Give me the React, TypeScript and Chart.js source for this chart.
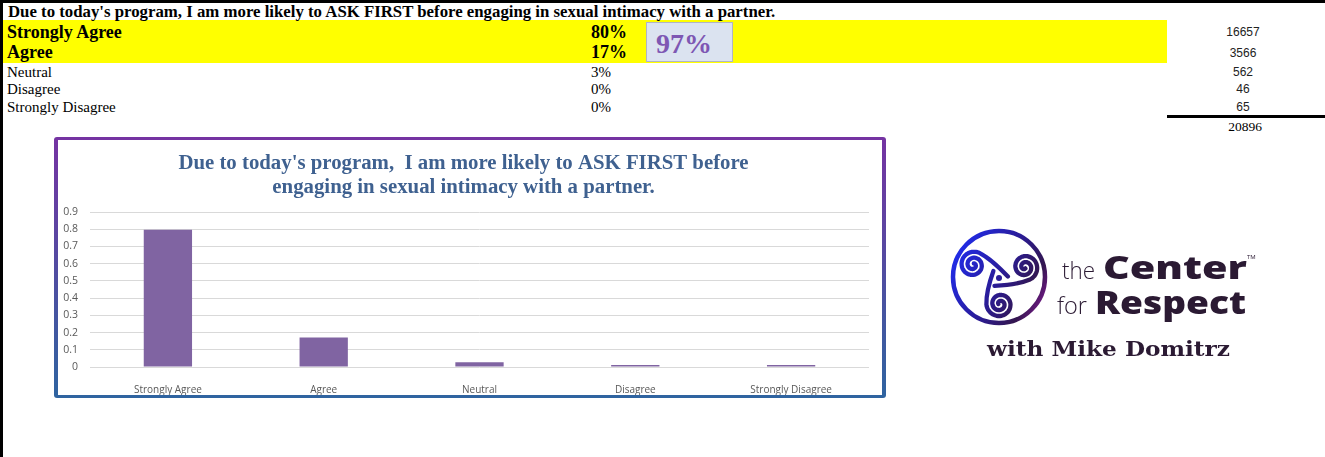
import React, { useEffect, useRef } from "react";
import { Chart, registerables } from "chart.js";
Chart.register(...registerables);

// ---- data ----
const question =
  "Due to today's program, I am more likely to ASK FIRST before engaging in sexual intimacy with a partner.";
const chartTitle = [
  "Due to today's program,  I am more likely to ASK FIRST before",
  "engaging in sexual intimacy with a partner.",
];
const categories = ["Strongly Agree", "Agree", "Neutral", "Disagree", "Strongly Disagree"];
const counts = ["16657", "3566", "562", "46", "65"];
const pctLabels = ["80%", "17%", "3%", "0%", "0%"];
const shares = [0.797, 0.171, 0.027, 0.002, 0.003];
const totalLabel = "20896";
const combinedLabel = "97%";
const yTickLabels = ["0", "0.1", "0.2", "0.3", "0.4", "0.5", "0.6", "0.7", "0.8", "0.9"];

const rowY = [32, 52, 72, 89, 107];
const countY = [32, 53, 72, 89, 107];

function Txt(props: {
  x: number; y: number; size: number; children: React.ReactNode; bold?: boolean;
  family?: string; color?: string; align?: "left" | "center" | "right"; w?: number; weight?: number; ls?: number;
}) {
  const h = Math.round(props.size * 1.3);
  const w = props.w ?? 400;
  let left = props.x;
  if (props.align === "center") left = props.x - w / 2;
  if (props.align === "right") left = props.x - w;
  return (
    <div
      style={{
        position: "absolute", left, top: props.y - h / 2, width: w, height: h, lineHeight: h + "px",
        fontSize: props.size, fontFamily: props.family ?? "'Liberation Serif', serif",
        fontWeight: props.weight ?? (props.bold ? 700 : 400), color: props.color ?? "#000",
        textAlign: props.align ?? "left", whiteSpace: "nowrap", letterSpacing: props.ls ?? 0,
      }}
    >
      {props.children}
    </div>
  );
}

function Logo() {
  const cx = 999, cy = 277;
  const spots = [
    { a: -153, d: 29 },
    { a: -23, d: 28 },
    { a: 88, d: 26 },
  ];
  const R = 13.5;
  const paths = spots.map((s) => {
    const a = (s.a * Math.PI) / 180;
    const sx = cx + s.d * Math.cos(a);
    const sy = cy + 1 + s.d * Math.sin(a);
    const th0 = a + Math.PI / 2;
    const pts: string[] = [];
    const N = 90;
    const turns = 2;
    for (let i = 0; i <= N; i++) {
      const t = i / N;
      const th = th0 - t * turns * 2 * Math.PI;
      const r = R - (R - 1.5) * t;
      pts.push((sx + r * Math.cos(th)).toFixed(1) + "," + (sy + r * Math.sin(th)).toFixed(1));
    }
    const p0x = sx + R * Math.cos(th0);
    const p0y = sy + R * Math.sin(th0);
    const startX = cx + 9 * Math.cos(a + 2.5);
    const startY = cy + 1 + 9 * Math.sin(a + 2.5);
    const ctrlX = p0x - 13 * Math.cos(a);
    const ctrlY = p0y - 13 * Math.sin(a);
    return `M${startX.toFixed(1)},${startY.toFixed(1)} Q${ctrlX.toFixed(1)},${ctrlY.toFixed(1)} ${p0x.toFixed(1)},${p0y.toFixed(1)} L` + pts.join("L");
  });
  const ink = "#2b1a33";
  const sans = "'Open Sans', sans-serif";
  return (
    <svg style={{ position: "absolute", left: 0, top: 0 }} width={1325} height={457}>
      <defs>
        <linearGradient id="lg" gradientUnits="userSpaceOnUse" x1={951} y1={250} x2={1048} y2={300}>
          <stop offset="0" stopColor="#1f2df0" />
          <stop offset="0.5" stopColor="#2a1c98" />
          <stop offset="0.82" stopColor="#33164f" />
          <stop offset="1" stopColor="#7a1a8c" />
        </linearGradient>
      </defs>
      <circle cx={cx} cy={cy} r={46} fill="none" stroke="url(#lg)" strokeWidth={4.5} />
      {paths.map((d, i) => (
        <path key={i} d={d} fill="none" stroke="url(#lg)" strokeWidth={4.3} strokeLinecap="round" strokeLinejoin="round" />
      ))}
      <circle cx={cx} cy={cy + 1} r={3} fill="#2a1c98" />

      <text x={1062} y={279} fontFamily={sans} fontWeight={300} fontSize={24} fill={ink} textLength={33} lengthAdjust="spacingAndGlyphs">the</text>
      <text x={1103} y={279} fontFamily={sans} fontWeight={800} fontSize={31} fill={ink} textLength={144} lengthAdjust="spacingAndGlyphs">Center</text>
      <text x={1247} y={259} fontFamily={sans} fontWeight={400} fontSize={6} fill={ink}>TM</text>
      <text x={1057} y={314} fontFamily={sans} fontWeight={300} fontSize={24} fill={ink} textLength={30} lengthAdjust="spacingAndGlyphs">for</text>
      <text x={1095} y={314} fontFamily={sans} fontWeight={800} fontSize={31} fill={ink} textLength={151} lengthAdjust="spacingAndGlyphs">Respect</text>
      <text x={987} y={356} fontFamily="'DejaVu Serif', serif" fontWeight={700} fontSize={21} fill={ink} textLength={243} lengthAdjust="spacingAndGlyphs">with Mike Domitrz</text>
    </svg>
  );
}

export default function App() {
  const ref = useRef<HTMLCanvasElement | null>(null);

  useEffect(() => {
    document.body.style.margin = "0";
    if (!ref.current) return;
    const chart = new Chart(ref.current, {
      type: "bar",
      data: {
        labels: categories,
        datasets: [
          {
            data: shares,
            backgroundColor: "#8064a2",
            barPercentage: 0.31,
            categoryPercentage: 1,
            minBarLength: 2,
          },
        ],
      },
      options: {
        animation: false,
        responsive: false,
        maintainAspectRatio: false,
        layout: { padding: { left: 0, right: 13, top: 0, bottom: 0 } },
        plugins: {
          legend: { display: false },
          tooltip: { enabled: false },
          title: {
            display: true,
            text: chartTitle,
            color: "#3f6190",
            font: { family: "'Liberation Serif', serif", size: 20.8, weight: "bold", lineHeight: 24 / 20.8 },
            padding: { top: 12, bottom: 12 },
          },
        },
        scales: {
          x: {
            grid: { display: false },
            border: { display: false },
            ticks: { color: "#595959", font: { family: "'Open Sans', sans-serif", size: 10 }, padding: 9 },
            afterFit: (s: any) => { s.height = 28; },
          },
          y: {
            min: 0,
            max: 0.9,
            ticks: {
              stepSize: 0.1,
              color: "#595959",
              font: { family: "'Open Sans', sans-serif", size: 10.5 },
              padding: 12,
              callback: (_v: any, i: number) => yTickLabels[i],
            },
            grid: { color: "#d9d9d9", drawTicks: false },
            border: { display: false },
            afterFit: (s: any) => { s.width = 32; },
          },
        },
      },
    });
    return () => chart.destroy();
  }, []);

  return (
    <div style={{ position: "absolute", left: 0, top: 0, width: 1325, height: 457, background: "#fff", overflow: "hidden" }}>
      {/* sheet borders */}
      <div style={{ position: "absolute", left: 0, top: 0, width: 1325, height: 3, background: "#000" }} />
      <div style={{ position: "absolute", left: 0, top: 0, width: 3, height: 457, background: "#000" }} />
      {/* yellow band */}
      <div style={{ position: "absolute", left: 3, top: 20, width: 1164, height: 43, background: "#ffff00" }} />

      <Txt x={8} y={12} size={16.8} bold w={900}>{question}</Txt>

      {categories.map((c, i) => (
        <Txt key={"c" + i} x={7} y={rowY[i]} size={i < 2 ? 18 : 15} bold={i < 2}>{c}</Txt>
      ))}
      {pctLabels.map((p, i) => (
        <Txt key={"p" + i} x={591} y={rowY[i]} size={i < 2 ? 18 : 15} bold={i < 2} w={80}>{p}</Txt>
      ))}

      {/* 97% box */}
      <div style={{ position: "absolute", left: 646, top: 22, width: 85, height: 38, background: "#dbe3f0", border: "1px solid #b0b4c4" }} />
      <Txt x={684} y={44} size={28} bold color="#7e57b3" align="center" w={100}>{combinedLabel}</Txt>

      {counts.map((n, i) => (
        <Txt key={"n" + i} x={1243} y={countY[i]} size={12} family="'Liberation Sans', Arial, sans-serif" color="#222" align="center" w={80}>{n}</Txt>
      ))}
      <div style={{ position: "absolute", left: 1167, top: 115, width: 158, height: 3, background: "#000" }} />
      <Txt x={1245} y={127} size={13.5} align="center" w={80}>{totalLabel}</Txt>

      {/* chart frame */}
      <div style={{ position: "absolute", left: 54, top: 137, width: 832, height: 261, borderRadius: 3, background: "linear-gradient(to bottom, #7533a2, #2f64a0)" }} />
      <div style={{ position: "absolute", left: 58, top: 140, width: 824, height: 255, background: "#fff" }}>
        <canvas ref={ref} width={824} height={255} style={{ display: "block", width: 824, height: 255 }} />
      </div>

      {/* logo */}
      <Logo />
    </div>
  );
}
